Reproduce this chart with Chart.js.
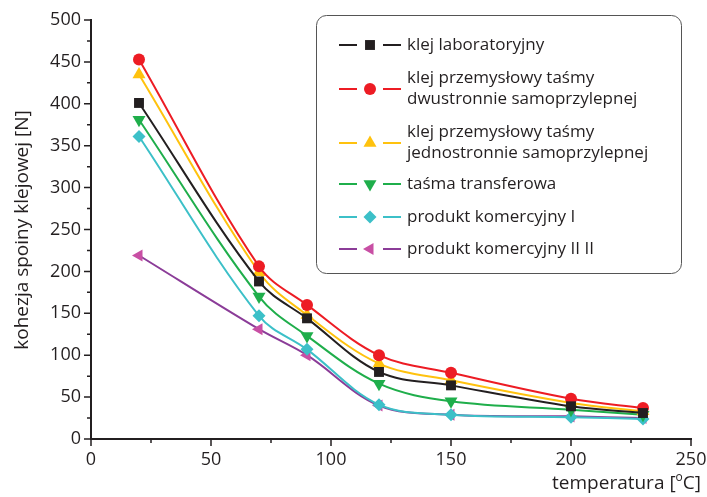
<!DOCTYPE html>
<html>
<head>
<meta charset="utf-8">
<script src="https://cdn.jsdelivr.net/npm/chart.js@4"></script>
<style>
  html, body { margin: 0; padding: 0; background: #fff; }
  #wrap { width: 707px; height: 497px; }
</style>
</head>
<body>
<div id="wrap"><canvas id="chart" width="707" height="497"></canvas></div>
<script>
// Temperatures [°C]
var temps = [20, 70, 90, 120, 150, 200, 230];

// Cohesion values [N]
var klejLab = [401, 188, 144, 80, 64, 39, 31];
var klejDwu = [453, 206, 160, 100, 79, 48, 37];
var klejJedno = [435, 199, 148, 90, 70, 43, 33];
var tasmaTransfer = [381, 170, 123, 66, 45, 35, 29];
var produktI = [361, 147, 107, 41, 29, 26, 24];
var produktII = [219, 131, 100, 40, 29, 27, 25];

var seriesNames = [
    ["klej laboratoryjny"],
    ["klej przemysłowy taśmy", "dwustronnie samoprzylepnej"],
    ["klej przemysłowy taśmy", "jednostronnie samoprzylepnej"],
    ["taśma transferowa"],
    ["produkt komercyjny I"],
    ["produkt komercyjny II II"]
];

var xTicks = [0, 50, 100, 150, 200, 250];
var yTicks = [0, 50, 100, 150, 200, 250, 300, 350, 400, 450, 500];

var FONT = "'Open Sans', 'Noto Sans', sans-serif";
var TEXT = '#231f20';

function toPoints(ys) {
    return ys.map((y, i) => ({ x: temps[i], y: y }));
}

function makeSet(name, ys, line, fill, style, radius, rotation) {
    return {
        label: name.join(' '),
        lines: name,
        data: toPoints(ys),
        showLine: true,
        borderColor: line,
        borderWidth: 2,
        backgroundColor: fill,
        pointBackgroundColor: fill,
        pointBorderColor: fill,
        pointBorderWidth: 0,
        pointStyle: style,
        pointRadius: radius,
        pointRotation: rotation || 0,
        tension: 0.35
    };
}

// Draw the legend box, axis titles and minor ticks.
const extras = {
    id: 'extras',
    afterDraw(chart) {
        const ctx = chart.ctx;
        const xs = chart.scales.x, ys = chart.scales.y;
        ctx.save();

        // minor + major ticks, outward
        ctx.strokeStyle = TEXT;
        ctx.lineWidth = 1.5;
        ctx.beginPath();
        for (let v = 0; v <= 250; v += 25) {
            let px = xs.getPixelForValue(v);
            let len = (v % 50 === 0) ? 7 : 4;
            ctx.moveTo(px, ys.bottom);
            ctx.lineTo(px, ys.bottom + len);
        }
        for (let v = 0; v <= 500; v += 25) {
            let py = ys.getPixelForValue(v);
            let len = (v % 50 === 0) ? 7 : 4;
            ctx.moveTo(xs.left, py);
            ctx.lineTo(xs.left - len, py);
        }
        ctx.stroke();

        // axis titles
        ctx.fillStyle = TEXT;
        ctx.font = '19px ' + FONT;
        ctx.textAlign = 'right';
        ctx.textBaseline = 'alphabetic';
        let tx = 701, ty = 489;
        let cW = ctx.measureText('C]').width;
        ctx.fillText('C]', tx, ty);
        ctx.font = '12px ' + FONT;
        let oW = ctx.measureText('o').width;
        ctx.fillText('o', tx - cW, ty - 8);
        ctx.font = '19px ' + FONT;
        ctx.fillText('temperatura [', tx - cW - oW, ty);

        ctx.translate(28, 230);
        ctx.rotate(-Math.PI / 2);
        ctx.textAlign = 'center';
        ctx.fillText('kohezja spoiny klejowej [N]', 0, 0);
        ctx.setTransform(1, 0, 0, 1, 0, 0);

        // legend box
        let bx = 316.5, by = 15.5, bw = 365, bh = 258;
        ctx.strokeStyle = '#555';
        ctx.lineWidth = 1;
        ctx.beginPath();
        ctx.roundRect(bx, by, bw, bh, 10);
        ctx.fillStyle = '#fff';
        ctx.fill();
        ctx.stroke();

        let rowY = [45, 89, 143, 184, 217, 249];
        ctx.font = '17px ' + FONT;
        ctx.textAlign = 'left';
        ctx.textBaseline = 'middle';
        chart.data.datasets.forEach((ds, i) => {
            let y = rowY[i];
            ctx.strokeStyle = ds.borderColor;
            ctx.lineWidth = 2;
            ctx.beginPath();
            ctx.moveTo(339, y); ctx.lineTo(357, y);
            ctx.moveTo(383, y); ctx.lineTo(401, y);
            ctx.stroke();
            ctx.fillStyle = ds.pointBackgroundColor;
            ctx.strokeStyle = ds.pointBackgroundColor;
            Chart.helpers.drawPoint(ctx, {
                pointStyle: ds.pointStyle,
                rotation: ds.pointRotation,
                radius: ds.pointRadius,
                borderWidth: 0
            }, 370, y);
            ctx.fillStyle = TEXT;
            let lines = ds.lines;
            let lh = 21;
            let y0 = y - (lines.length - 1) * lh / 2;
            lines.forEach((t, k) => ctx.fillText(t, 407, y0 + k * lh));
        });
        ctx.restore();
    }
};

new Chart(document.getElementById('chart'), {
    type: 'scatter',
    data: {
        datasets: [
            makeSet(seriesNames[0], klejLab, '#231f20', '#231f20', 'rect', 7),
            makeSet(seriesNames[1], klejDwu, '#ed1c24', '#ed1c24', 'circle', 6),
            makeSet(seriesNames[2], klejJedno, '#ffc20e', '#ffc20e', 'triangle', 7.5),
            makeSet(seriesNames[3], tasmaTransfer, '#1fae4b', '#1fae4b', 'triangle', 7.5, 180),
            makeSet(seriesNames[4], produktI, '#3cc0c8', '#3cc0c8', 'rectRot', 6.5),
            makeSet(seriesNames[5], produktII, '#8b3c98', '#c84fa4', 'triangle', 7, -90)
        ]
    },
    options: {
        responsive: false,
        animation: false,
        events: [],
        layout: { padding: { top: 20, right: 16, left: 0, bottom: 0 } },
        plugins: {
            legend: { display: false },
            tooltip: { enabled: false }
        },
        scales: {
            x: {
                type: 'linear',
                min: 0,
                max: 250,
                afterBuildTicks: (s) => { s.ticks = xTicks.map(v => ({ value: v })); },
                afterFit: (s) => { s.height = 58; s.paddingRight = 0; s.paddingLeft = 0; },
                grid: { display: false, drawTicks: false },
                border: { display: true, color: TEXT, width: 2 },
                ticks: { color: TEXT, font: { family: FONT, size: 18 }, padding: 10, maxRotation: 0 }
            },
            y: {
                min: 0,
                max: 500,
                afterBuildTicks: (s) => { s.ticks = yTicks.map(v => ({ value: v })); },
                afterFit: (s) => { s.width = 91; s.paddingTop = 0; s.paddingBottom = 0; },
                grid: { display: false, drawTicks: false },
                border: { display: true, color: TEXT, width: 2 },
                ticks: { color: TEXT, font: { family: FONT, size: 18 }, padding: 10 }
            }
        }
    },
    plugins: [extras]
});
</script>
</body>
</html>
